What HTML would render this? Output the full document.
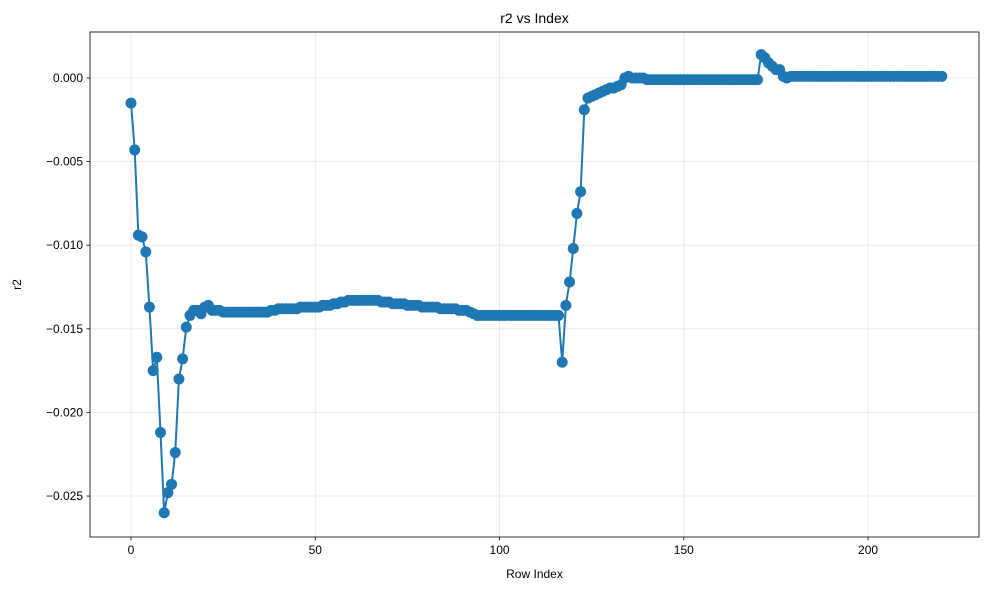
<!DOCTYPE html>
<html><head><meta charset="utf-8"><style>
body{margin:0;background:#fff;font-family:"Liberation Sans",sans-serif;}
svg text{font-family:"Liberation Sans",sans-serif;font-size:12px;fill:#000;}
</style></head><body>
<svg id="chart" width="989" height="590"></svg>
<script>
const xTicks=[0,50,100,150,200];
const yTicks=[0.000,-0.005,-0.010,-0.015,-0.020,-0.025];
const yTickLabels=["0.000","−0.005","−0.010","−0.015","−0.020","−0.025"];
const r2Values=[
-0.0015,-0.0043,-0.0094,-0.0095,-0.0104,-0.0137,-0.0175,-0.0167,-0.0212,-0.0260,
-0.0248,-0.0243,-0.0224,-0.0180,-0.0168,-0.0149,-0.0142,-0.0139,-0.0139,-0.0141,
-0.0137,-0.0136,-0.0139,
-0.0139,-0.0139,-0.0140,-0.0140,-0.0140,-0.0140,-0.0140,-0.0140,-0.0140,-0.0140,-0.0140,-0.0140,-0.0140,-0.0140,-0.0140,-0.0139,
-0.0139,-0.0138,-0.0138,-0.0138,-0.0138,-0.0138,-0.0138,-0.0137,-0.0137,-0.0137,-0.0137,-0.0137,-0.0137,-0.0136,-0.0136,-0.0136,-0.0135,-0.0135,-0.0134,-0.0134,-0.0133,
-0.0133,-0.0133,-0.0133,-0.0133,-0.0133,-0.0133,-0.0133,
-0.0133,-0.0134,-0.0134,-0.0134,-0.0135,-0.0135,-0.0135,-0.0135,-0.0136,-0.0136,-0.0136,-0.0136,-0.0137,-0.0137,-0.0137,-0.0137,-0.0137,-0.0138,-0.0138,-0.0138,-0.0138,-0.0138,-0.0139,-0.0139,-0.0139,-0.0140,-0.0141,-0.0142,
-0.0142,-0.0142,-0.0142,-0.0142,-0.0142,-0.0142,-0.0142,-0.0142,-0.0142,-0.0142,-0.0142,-0.0142,-0.0142,-0.0142,-0.0142,-0.0142,-0.0142,-0.0142,-0.0142,-0.0142,-0.0142,-0.0142,
-0.0170,-0.0136,-0.0122,-0.0102,-0.0081,-0.0068,-0.0019,-0.0012,-0.0011,-0.0010,-0.0009,-0.0008,-0.0007,-0.0006,-0.0006,-0.0005,-0.0004,0.0000,0.0001,0.0000,0.0000,0.0000,0.0000,
-0.0001,-0.0001,-0.0001,-0.0001,-0.0001,-0.0001,-0.0001,-0.0001,-0.0001,-0.0001,-0.0001,-0.0001,-0.0001,-0.0001,-0.0001,-0.0001,-0.0001,-0.0001,-0.0001,-0.0001,-0.0001,-0.0001,-0.0001,-0.0001,-0.0001,-0.0001,-0.0001,-0.0001,-0.0001,-0.0001,-0.0001,
0.0014,0.0012,0.0009,0.0007,0.0005,0.0005,0.0001,0.0000,0.0001,0.0001,
0.0001,0.0001,0.0001,0.0001,0.0001,0.0001,0.0001,0.0001,0.0001,0.0001,0.0001,0.0001,0.0001,0.0001,0.0001,0.0001,0.0001,0.0001,0.0001,0.0001,
0.0001,0.0001,0.0001,0.0001,0.0001,0.0001,0.0001,0.0001,0.0001,0.0001,0.0001,0.0001,0.0001,0.0001,0.0001,0.0001,0.0001,0.0001,0.0001,0.0001
];
const L=90,R=979,T=32,B=537;
const xMin=-11.13,xMax=230.1,yMin=-0.02745,yMax=0.00275;
const xs=v=>L+(v-xMin)/(xMax-xMin)*(R-L);
const ys=v=>B-(v-yMin)/(yMax-yMin)*(B-T);
const svg=document.getElementById('chart');
const NS='http://www.w3.org/2000/svg';
function mk(tag,attrs,parent){const e=document.createElementNS(NS,tag);for(const k in attrs)e.setAttribute(k,attrs[k]);(parent||svg).appendChild(e);return e;}
const grid=mk('g',{});


xTicks.forEach(t=>{
  const l=mk('line',{x1:xs(t),x2:xs(t),y1:T,y2:B,stroke:'#b0b0b0','stroke-opacity':0.3,'stroke-width':0.8},grid);
  
  
  const tk=mk('line',{x1:xs(t),x2:xs(t),y1:B,y2:B+3.5,stroke:'#000','stroke-width':0.8});
  
  
  const tx=mk('text',{x:xs(t),y:B+17,'text-anchor':'middle'});tx.textContent=t;
  
  
});
yTicks.forEach((t,i)=>{
  const l=mk('line',{x1:L,x2:R,y1:ys(t),y2:ys(t),stroke:'#b0b0b0','stroke-opacity':0.3,'stroke-width':0.8},grid);
  
  
  const tk=mk('line',{x1:L-3.5,x2:L,y1:ys(t),y2:ys(t),stroke:'#000','stroke-width':0.8});
  
  
  const tx=mk('text',{x:L-7,y:ys(t)+4,'text-anchor':'end'});tx.textContent=yTickLabels[i];
  
  
});
const pts=r2Values.map((v,i)=>xs(i).toFixed(2)+','+ys(v).toFixed(2)).join(' ');
const line=mk('polyline',{points:pts,fill:'none',stroke:'#1f77b4','stroke-width':2,'stroke-linejoin':'round'});


const mg=mk('g',{fill:'#1f77b4'});


r2Values.forEach((v,i)=>{
  const c=mk('circle',{cx:xs(i),cy:ys(v),r:5.5},mg);
  
  
});
const frame=mk('rect',{x:L,y:T,width:R-L,height:B-T,fill:'none',stroke:'#000','stroke-width':0.8});


const title=mk('text',{x:(L+R)/2,y:23,'text-anchor':'middle','font-size':'14'});title.textContent='r2 vs Index';
title.style.fontSize='14px';


const xl=mk('text',{x:(L+R)/2,y:578,'text-anchor':'middle'});xl.textContent='Row Index';


const yl=mk('text',{x:21,y:(T+B)/2,'text-anchor':'middle',transform:'rotate(-90 21 '+((T+B)/2)+')'});yl.textContent='r2';


</script>
</body></html>
